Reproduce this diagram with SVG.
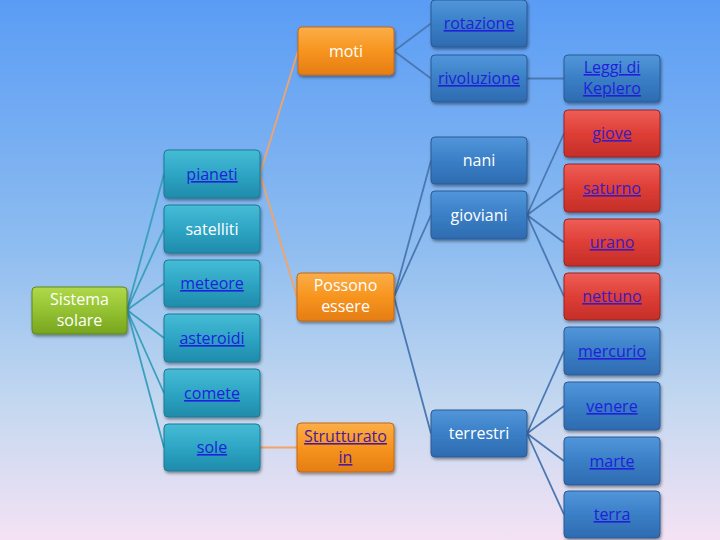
<svg xmlns="http://www.w3.org/2000/svg" width="720" height="540" viewBox="0 0 720 540">
<defs>
<linearGradient id="bg" x1="0" y1="0" x2="0" y2="1">
<stop offset="0" stop-color="#5a9cf5"/>
<stop offset="0.45" stop-color="#8dbcf0"/>
<stop offset="0.75" stop-color="#c4d8f0"/>
<stop offset="1" stop-color="#f4e2f4"/>
</linearGradient>
<linearGradient id="gGreen" x1="0" y1="0" x2="0" y2="1">
<stop offset="0" stop-color="#b0d84a"/><stop offset="0.5" stop-color="#94c232"/><stop offset="1" stop-color="#77a41e"/>
</linearGradient>
<linearGradient id="gTeal" x1="0" y1="0" x2="0" y2="1">
<stop offset="0" stop-color="#46bcd6"/><stop offset="0.5" stop-color="#2ea5c4"/><stop offset="1" stop-color="#1f8bab"/>
</linearGradient>
<linearGradient id="gOrange" x1="0" y1="0" x2="0" y2="1">
<stop offset="0" stop-color="#fbae48"/><stop offset="0.5" stop-color="#f7941e"/><stop offset="1" stop-color="#e57d14"/>
</linearGradient>
<linearGradient id="gBlue" x1="0" y1="0" x2="0" y2="1">
<stop offset="0" stop-color="#5296da"/><stop offset="0.5" stop-color="#3a7fc6"/><stop offset="1" stop-color="#2e6bb0"/>
</linearGradient>
<linearGradient id="gRed" x1="0" y1="0" x2="0" y2="1">
<stop offset="0" stop-color="#ee5e56"/><stop offset="0.5" stop-color="#de3e36"/><stop offset="1" stop-color="#c42e28"/>
</linearGradient>
<filter id="sh" x="-10%" y="-10%" width="130%" height="140%">
<feDropShadow dx="1" dy="2" stdDeviation="1.5" flood-color="#000" flood-opacity="0.4"/>
</filter>
<style>
rect.n{filter:url(#sh);stroke-width:1}
.green{fill:url(#gGreen);stroke:#5f8a1a}
.teal{fill:url(#gTeal);stroke:#1a7a96}
.orange{fill:url(#gOrange);stroke:#c0681a}
.blue{fill:url(#gBlue);stroke:#2a5a96}
.red{fill:url(#gRed);stroke:#9a2622}
text{font-family:"Open Sans","Liberation Sans",sans-serif;font-size:16px;text-anchor:middle}
.w{fill:#ffffff}
.lk{fill:#1f1fdc;text-decoration:underline}
.lr{fill:#3a1cc0;text-decoration:underline}
.vis{fill:#4a1a9a;text-decoration:underline}
.ct{stroke:#3aa0bd;stroke-width:1.8;fill:none}
.co{stroke:#f2a468;stroke-width:1.8;fill:none}
.cb{stroke:#4a78b2;stroke-width:1.8;fill:none}
</style>
</defs>
<rect x="0" y="0" width="720" height="540" fill="url(#bg)"/>
<g id="connectors">
<line class="ct" x1="127" y1="310" x2="164" y2="174"/>
<line class="ct" x1="127" y1="310" x2="164" y2="229"/>
<line class="ct" x1="127" y1="310" x2="164" y2="283.5"/>
<line class="ct" x1="127" y1="310" x2="164" y2="338"/>
<line class="ct" x1="127" y1="310" x2="164" y2="393"/>
<line class="ct" x1="127" y1="310" x2="164" y2="447.5"/>
<line class="co" x1="260" y1="174" x2="298" y2="51"/>
<line class="co" x1="260" y1="174" x2="297" y2="297"/>
<line class="co" x1="260" y1="447.5" x2="297" y2="447.5"/>
<line class="cb" x1="394" y1="51" x2="431" y2="23.5"/>
<line class="cb" x1="394" y1="51" x2="431" y2="78.5"/>
<line class="cb" x1="527" y1="78.5" x2="564" y2="78.5"/>
<line class="cb" x1="394" y1="297" x2="431" y2="160.5"/>
<line class="cb" x1="394" y1="297" x2="431" y2="215"/>
<line class="cb" x1="394" y1="297" x2="431" y2="433.5"/>
<line class="cb" x1="527" y1="215" x2="564" y2="133.5"/>
<line class="cb" x1="527" y1="215" x2="564" y2="188"/>
<line class="cb" x1="527" y1="215" x2="564" y2="242.5"/>
<line class="cb" x1="527" y1="215" x2="564" y2="296.5"/>
<line class="cb" x1="527" y1="433.5" x2="564" y2="351"/>
<line class="cb" x1="527" y1="433.5" x2="564" y2="406"/>
<line class="cb" x1="527" y1="433.5" x2="564" y2="461"/>
<line class="cb" x1="527" y1="433.5" x2="564" y2="514.5"/>
</g>
<g id="sistema"><rect class="n green" x="32" y="287" width="95" height="47" rx="4"/><text class="w" x="79.5" y="305">Sistema</text><text class="w" x="79.5" y="326">solare</text></g>
<g id="pianeti"><rect class="n teal" x="164" y="150" width="96" height="48" rx="4"/><text class="lk" x="212" y="180">pianeti</text></g>
<g id="satelliti"><rect class="n teal" x="164" y="205" width="96" height="48" rx="4"/><text class="w" x="212" y="235">satelliti</text></g>
<g id="meteore"><rect class="n teal" x="164" y="260" width="96" height="47" rx="4"/><text class="lk" x="212" y="289">meteore</text></g>
<g id="asteroidi"><rect class="n teal" x="164" y="314" width="96" height="48" rx="4"/><text class="lk" x="212" y="344">asteroidi</text></g>
<g id="comete"><rect class="n teal" x="164" y="369" width="96" height="48" rx="4"/><text class="lk" x="212" y="399">comete</text></g>
<g id="sole"><rect class="n teal" x="164" y="424" width="96" height="47" rx="4"/><text class="lk" x="212" y="453">sole</text></g>
<g id="moti"><rect class="n orange" x="298" y="27" width="96" height="48" rx="4"/><text class="w" x="346" y="57">moti</text></g>
<g id="possono"><rect class="n orange" x="297" y="273" width="97" height="48" rx="4"/><text class="w" x="345.5" y="291">Possono</text><text class="w" x="345.5" y="312">essere</text></g>
<g id="strutturato"><rect class="n orange" x="297" y="423" width="97" height="49" rx="4"/><text class="vis" x="345.5" y="442">Strutturato</text><text class="vis" x="345.5" y="463">in</text></g>
<g id="rotazione"><rect class="n blue" x="431" y="0" width="96" height="47" rx="4"/><text class="lk" x="479" y="29">rotazione</text></g>
<g id="rivoluzione"><rect class="n blue" x="431" y="55" width="96" height="47" rx="4"/><text class="lk" x="479" y="84">rivoluzione</text></g>
<g id="nani"><rect class="n blue" x="431" y="137" width="96" height="47" rx="4"/><text class="w" x="479" y="166">nani</text></g>
<g id="gioviani"><rect class="n blue" x="431" y="191" width="96" height="48" rx="4"/><text class="w" x="479" y="221">gioviani</text></g>
<g id="terrestri"><rect class="n blue" x="431" y="410" width="96" height="47" rx="4"/><text class="w" x="479" y="439">terrestri</text></g>
<g id="keplero"><rect class="n blue" x="564" y="55" width="96" height="47" rx="4"/><text class="lk" x="612" y="73">Leggi di</text><text class="lk" x="612" y="94">Keplero</text></g>
<g id="giove"><rect class="n red" x="564" y="110" width="96" height="47" rx="4"/><text class="lr" x="612" y="139">giove</text></g>
<g id="saturno"><rect class="n red" x="564" y="164" width="96" height="48" rx="4"/><text class="lr" x="612" y="194">saturno</text></g>
<g id="urano"><rect class="n red" x="564" y="219" width="96" height="47" rx="4"/><text class="lr" x="612" y="248">urano</text></g>
<g id="nettuno"><rect class="n red" x="564" y="273" width="96" height="47" rx="4"/><text class="lr" x="612" y="302">nettuno</text></g>
<g id="mercurio"><rect class="n blue" x="564" y="327" width="96" height="48" rx="4"/><text class="lk" x="612" y="357">mercurio</text></g>
<g id="venere"><rect class="n blue" x="564" y="382" width="96" height="48" rx="4"/><text class="lk" x="612" y="412">venere</text></g>
<g id="marte"><rect class="n blue" x="564" y="437" width="96" height="48" rx="4"/><text class="lk" x="612" y="467">marte</text></g>
<g id="terra"><rect class="n blue" x="564" y="491" width="96" height="47" rx="4"/><text class="lk" x="612" y="520">terra</text></g>
</svg>
